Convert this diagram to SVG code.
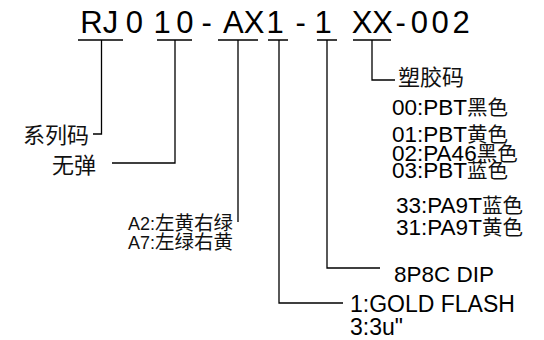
<svg xmlns="http://www.w3.org/2000/svg" width="544" height="340" viewBox="0 0 544 340">
  <style>
    .t { font-family: "Liberation Sans", Arial, "Noto Sans CJK SC", sans-serif; fill: #000; }
    .code { font-size: 31px; }
    .lbl { font-size: 22.5px; }
    .c { font-family: "Noto Sans CJK SC", sans-serif; font-size: 20.5px; fill: #111; }
    .cn { font-family: "Liberation Sans", "Noto Sans CJK SC", sans-serif; font-size: 21px; fill: #111; }
    .ln { stroke: #000; stroke-width: 1.3; fill: none; }
  </style>
  <rect width="544" height="340" fill="#fff"/>
  <g id="code">
    <text class="t code" y="33">
      <tspan x="80.3">RJ</tspan>
      <tspan x="125.7">0</tspan>
      <tspan x="153.6">1</tspan><tspan x="176.3">0</tspan>
      <tspan x="201.6">-</tspan>
      <tspan x="223">AX</tspan>
      <tspan x="266.6">1</tspan>
      <tspan x="295.6">-</tspan>
      <tspan x="314.6">1</tspan>
      <tspan x="351.7">XX</tspan>
      <tspan x="395.6">-</tspan>
      <tspan x="410.7">0</tspan><tspan x="431.4">0</tspan><tspan x="452.5">2</tspan>
    </text>
  </g>
  <g id="connectors">
    <path class="ln" d="M78 40H123M101.5 40V134H93"/>
    <path class="ln" d="M157 40H192M175 40V163H112"/>
    <path class="ln" d="M218 40H258M238 40V222"/>
    <path class="ln" d="M268 40H288M279 40V303H343"/>
    <path class="ln" d="M317 40H337M327 40V268H380"/>
    <path class="ln" d="M353 40H391M372 40V80H395"/>
  </g>
  <g id="series">
    <text class="cn" x="23" y="143" style="font-size:22px">系列码</text>
  </g>
  <g id="nospring">
    <text class="cn" x="52" y="173" style="font-size:22px">无弹</text>
  </g>
  <g id="led">
    <text class="cn" x="233" y="230" text-anchor="end"><tspan style="font-size:18px">A2:</tspan><tspan class="c" style="font-size:19.5px">左黄右绿</tspan></text>
    <text class="cn" x="233" y="249" text-anchor="end"><tspan style="font-size:18px">A7:</tspan><tspan class="c" style="font-size:19.5px">左绿右黄</tspan></text>
  </g>
  <g id="plating">
    <text class="t lbl" x="350" y="312" style="font-size:23px">1:GOLD FLASH</text>
    <text class="t lbl" x="350" y="335" style="font-size:23px">3:3u"</text>
  </g>
  <g id="type">
    <text class="t lbl" x="394" y="282">8P8C DIP</text>
  </g>
  <g id="plastic">
    <text class="cn" x="398" y="85" style="font-size:22px">塑胶码</text>
    <text class="t lbl" x="392" y="115">00:PBT<tspan class="c" dy="-0.5">黑色</tspan></text>
    <text class="t lbl" x="392" y="142">01:PBT<tspan class="c" dy="-0.5">黄色</tspan></text>
    <text class="t lbl" x="392" y="161">02:PA46<tspan class="c" dy="-0.5">黑色</tspan></text>
    <text class="t lbl" x="392" y="178">03:PBT<tspan class="c" dy="-0.5">蓝色</tspan></text>
    <text class="t lbl" x="396" y="213">33:PA9T<tspan class="c" dy="-0.5">蓝色</tspan></text>
    <text class="t lbl" x="396" y="235">31:PA9T<tspan class="c" dy="-0.5">黄色</tspan></text>
  </g>
</svg>
